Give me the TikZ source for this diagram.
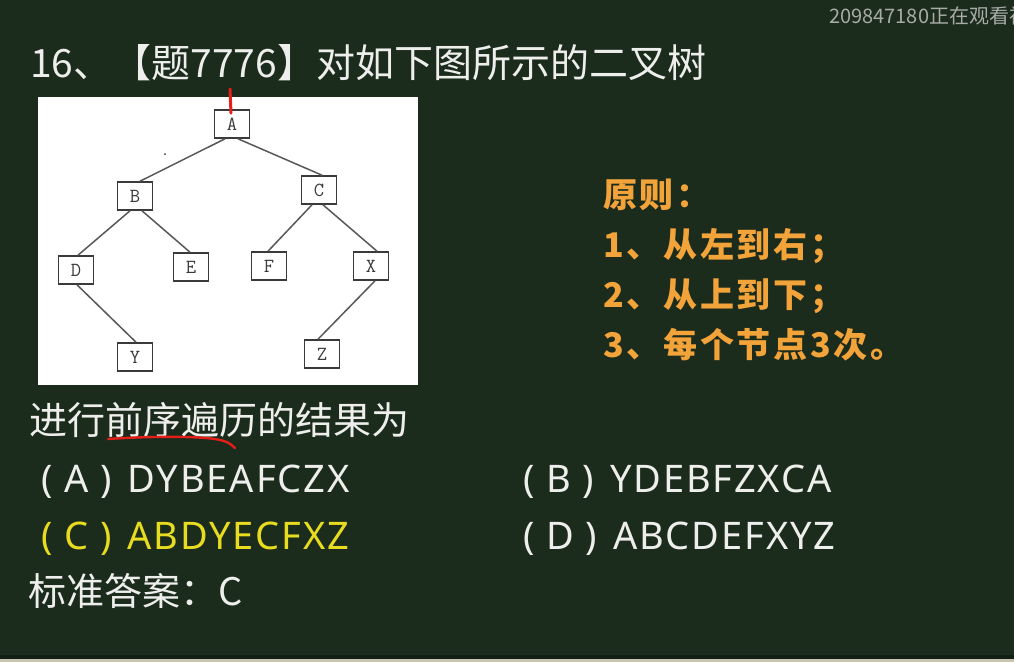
\documentclass[tikz,border=0pt]{standalone}
\usepackage{fontspec}
\setmainfont{Noto Sans}
\newfontfamily\cjk{Noto Sans CJK SC}
\newfontfamily\handfont[LetterSpace=8]{Noto Sans CJK SC}
\newfontfamily\opt[LetterSpace=5]{Noto Sans}
\definecolor{board}{HTML}{1B2B1C}
\definecolor{chalk}{HTML}{EEEEEC}
\definecolor{hand}{HTML}{F2A33A}
\definecolor{hilite}{HTML}{E8DC20}
\definecolor{wmark}{HTML}{A8ABA6}
\definecolor{boxline}{HTML}{3A3A3A}
\definecolor{penred}{HTML}{E41E18}
\definecolor{edgebeige}{HTML}{C8C6B0}
\tikzset{
  txt/.style={anchor=base west, inner sep=0pt, text=chalk},
  optxt/.style={txt, font=\opt\fontsize{38}{42}\selectfont},
  handtxt/.style={anchor=base west, inner sep=0pt, text=hand, font=\handfont\bfseries\fontsize{34}{38}\selectfont},
  tnode/.style={draw=boxline, line width=1.6pt, fill=white, minimum width=35pt, minimum height=28pt, inner sep=0pt, font=\ttfamily\fontsize{20}{21}\selectfont, text=boxline},
  tedge/.style={draw=boxline!85, line width=1.5pt}
}
\begin{document}
\begin{tikzpicture}[x=1pt,y=-1pt]
\useasboundingbox (0,0) rectangle (1014,662);
\fill[board] (0,0) rectangle (1014,662);
\fill[board!70!black] (0,655) rectangle (1014,659);
\fill[edgebeige] (0,659) rectangle (1014,662);

% watermark
\node[anchor=base west, inner sep=0pt, text=wmark, font=\cjk\fontsize{20}{22}\selectfont] (wm) at (829,23) {209847180正在观看视};

% title
\node[txt, font=\cjk\fontsize{39}{44}\selectfont] (title) at (30,77) {16、【题7776】对如下图所示的二叉树};

% tree panel
\fill[white] (38,97) rectangle (418,385);
\node[tnode] (A) at (232,124) {A};
\node[tnode] (B) at (135,196) {B};
\node[tnode] (C) at (319,190) {C};
\node[tnode] (D) at (76,270) {D};
\node[tnode] (E) at (191,267) {E};
\node[tnode] (F) at (269,266) {F};
\node[tnode] (X) at (371,266) {X};
\node[tnode] (Y) at (135,357) {Y};
\node[tnode] (Z) at (322,354) {Z};
\draw[tedge] ([xshift=-7pt]A.south) -- ([xshift=5pt]B.north);
\draw[tedge] ([xshift=6pt]A.south) -- ([xshift=3pt]C.north);
\draw[tedge] ([xshift=-5pt]B.south) -- ([xshift=2pt]D.north);
\draw[tedge] ([xshift=7pt]B.south) -- ([xshift=-1pt]E.north);
\draw[tedge] ([xshift=-7pt]C.south) -- ([xshift=-1pt]F.north);
\draw[tedge] ([xshift=4pt]C.south) -- ([xshift=6pt]X.north);
\draw[tedge] ([xshift=1pt]D.south) -- ([xshift=1pt]Y.north);
\draw[tedge] ([xshift=4pt]X.south) -- ([xshift=-4pt]Z.north);
\fill[boxline] (165,154) circle (1pt);
\coordinate (tick) at (230,89);
\draw[penred, line width=3pt, line cap=round] (tick) -- ([xshift=-1pt,yshift=-4pt]A.north);

% question
\node[txt, font=\cjk\fontsize{38}{42}\selectfont] (q) at (29,434) {进行前序遍历的结果为};
\coordinate (ul1) at (108,439);
\coordinate (ul2) at (235,448);
\draw[penred, line width=2.4pt, line cap=round] (ul1) .. controls (150,436) and (205,436) .. (220,440) .. controls (228,442) .. (ul2);

% options
\node[optxt] (oa) at (41,492) {( A )\kern4pt\ DYBEAFCZX};
\node[optxt] (ob) at (523,492) {( B )\kern4pt\ YDEBFZXCA};
\node[optxt, text=hilite] (oc) at (41,549) {( C )\kern4pt\ ABDYECFXZ};
\node[optxt] (od) at (523,549) {( D )\kern4pt\ ABCDEFXYZ};

% answer
\node[txt, font=\cjk\fontsize{38}{42}\selectfont] (ans) at (28,605) {标准答案：C};

% handwritten notes
\node[handtxt] (h0) at (603,207) {原则：};
\node[handtxt] (h1) at (603,257) {1、从左到右；};
\node[handtxt] (h2) at (603,307) {2、从上到下；};
\node[handtxt] (h3) at (603,357) {3、每个节点3次。};
\end{tikzpicture}
\end{document}
